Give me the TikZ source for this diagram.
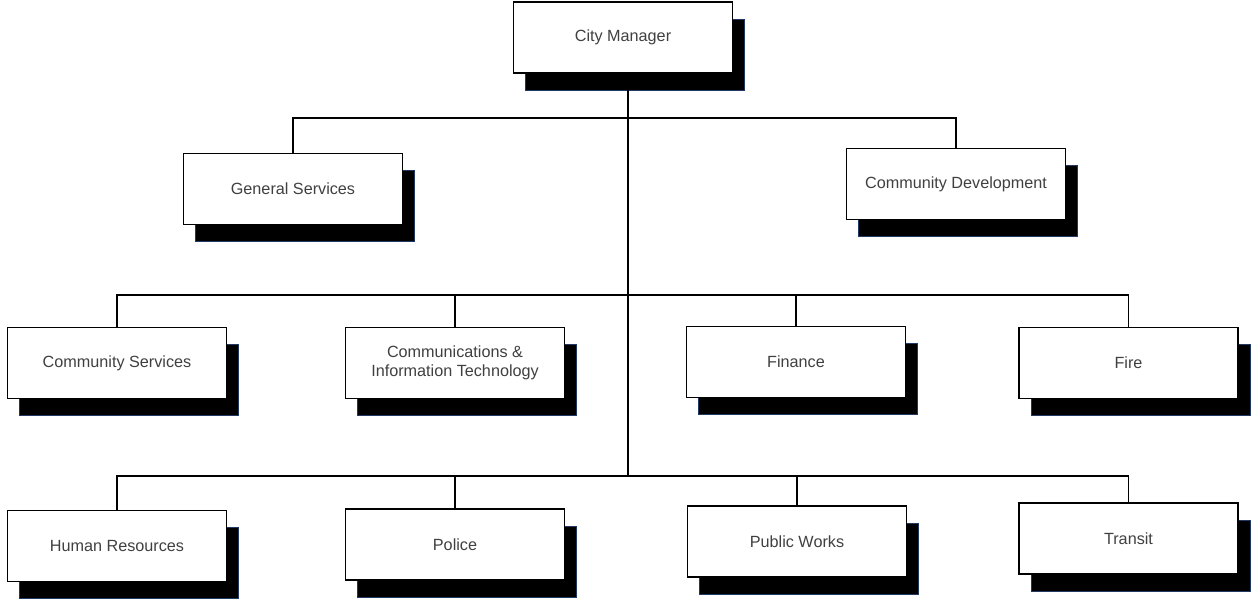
\documentclass[tikz,border=0pt]{standalone}
\usepackage{fontspec}
\setmainfont{Liberation Sans}
\usetikzlibrary{shadows}
\definecolor{shadowblue}{HTML}{1F3864}
\definecolor{txt}{HTML}{404040}
\tikzset{
  orgbox/.style={draw=black, line width=1.8pt, fill=white, minimum width=219pt, minimum height=71pt,
    align=center, text=txt, font=\fontsize{16.2}{18.8}\selectfont, inner sep=2pt,
    general shadow={shadow xshift=12pt, shadow yshift=-17pt, fill=black, draw=shadowblue, line width=1pt}},
  link/.style={draw=black, line width=1.9pt}
}
\begin{document}
\begin{tikzpicture}[x=1pt,y=-1pt]
\useasboundingbox (0,0) rectangle (1254,600);
\node[orgbox] (cm) at (623,37.5) {City Manager};
\node[orgbox] (gs) at (293,189) {General Services};
\node[orgbox] (cd) at (956,184) {Community Development};
\node[orgbox] (cs) at (117,363) {Community Services};
\node[orgbox] (cit) at (455,363) {Communications \&\\Information Technology};
\node[orgbox] (fin) at (796,362) {Finance};
\node[orgbox] (fire) at (1128.5,363) {Fire};
\node[orgbox] (hr) at (117,546) {Human Resources};
\node[orgbox] (pol) at (455,544.5) {Police};
\node[orgbox] (pw) at (797,541.5) {Public Works};
\node[orgbox] (tr) at (1128.5,538.5) {Transit};
\coordinate (top) at (628,73);
\coordinate (bus1) at (628,118);
\coordinate (bus2) at (628,295);
\coordinate (bus3) at (628,476);
\draw[link] (cm.south -| top) -- (bus3);
\draw[link] (gs.north) -- (gs.north |- bus1) -- (cd.north |- bus1) -- (cd.north);
\draw[link] (cs.north) -- (cs.north |- bus2) -- (fire.north |- bus2) -- (fire.north);
\draw[link] (cit.north) -- (cit.north |- bus2);
\draw[link] (fin.north) -- (fin.north |- bus2);
\draw[link] (hr.north) -- (hr.north |- bus3) -- (tr.north |- bus3) -- (tr.north);
\draw[link] (pol.north) -- (pol.north |- bus3);
\draw[link] (pw.north) -- (pw.north |- bus3);
\end{tikzpicture}
\end{document}
